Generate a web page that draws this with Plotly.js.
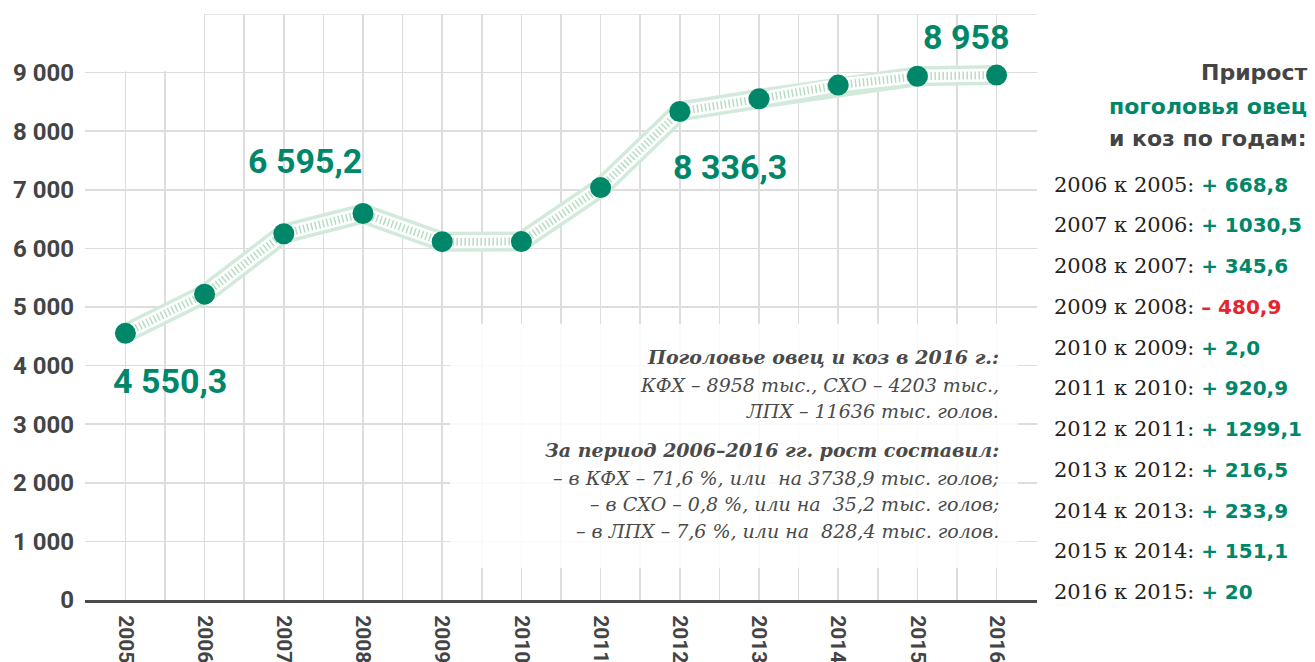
<!DOCTYPE html>
<html>
<head>
<meta charset="utf-8">
<script src="https://cdn.plot.ly/plotly-3.0.1.min.js"></script>
<style>html,body{margin:0;padding:0;background:#fff;}#chart{width:1315px;height:662px;}</style>
</head>
<body>
<div id="chart"></div>
<script>
// ---- data ----
const years = [2005, 2006, 2007, 2008, 2009, 2010, 2011, 2012, 2013, 2014, 2015, 2016];
const heads = [4550.3, 5219.1, 6249.6, 6595.2, 6114.3, 6116.3, 7037.2, 8336.3, 8552.8, 8786.7, 8937.8, 8957.8];
const yTickVals = [0, 1000, 2000, 3000, 4000, 5000, 6000, 7000, 8000, 9000];
const yTickText = ['0', '1 000', '2 000', '3 000', '4 000', '5 000', '6 000', '7 000', '8 000', '9 000'];
const calloutYears = [2005, 2008, 2012, 2016];
const calloutText = ['4 550,3', '6 595,2', '8 336,3', '8 958'];
const growthPeriods = ['2006 к 2005:', '2007 к 2006:', '2008 к 2007:', '2009 к 2008:', '2010 к 2009:', '2011 к 2010:',
  '2012 к 2011:', '2013 к 2012:', '2014 к 2013:', '2015 к 2014:', '2016 к 2015:'];
const growthValues = ['+ 668,8', '+ 1030,5', '+ 345,6', '– 480,9', '+ 2,0', '+ 920,9', '+ 1299,1', '+ 216,5', '+ 233,9', '+ 151,1', '+ 20'];
const headerLines = ['Прирост', 'поголовья овец', 'и коз по годам:'];
const noteLines = [
  '<b>Поголовье овец и коз в 2016 г.:</b>',
  'КФХ – 8958 тыс., СХО – 4203 тыс.,',
  'ЛПХ – 11636 тыс. голов.',
  '<b>За период 2006–2016 гг. рост составил:</b>',
  '– в КФХ – 71,6 %, или  на 3738,9 тыс. голов;',
  '– в СХО – 0,8 %, или на  35,2 тыс. голов;',
  '– в ЛПХ – 7,6 %, или на  828,4 тыс. голов.'
];

// ---- styles ----
const GREEN = '#00876a';
const DARK = '#444444';
const RED = '#e8232d';
const L = 85, R = 1037, T = 14.4, B = 600;
const px2x = p => (p - L) / (R - L);
const py2y = p => (B - p) / (B - T);

const lineCommon = {x: years, y: heads, mode: 'lines', hoverinfo: 'skip', showlegend: false};
const traces = [
  Object.assign({}, lineCommon, {line: {color: '#d2eada', width: 20}}),
  Object.assign({}, lineCommon, {line: {color: '#ffffff', width: 13}}),
  Object.assign({}, lineCommon, {line: {color: '#b6ddc1', width: 8, dash: '1.5px,2.5px'}}),
  {x: years, y: heads, mode: 'markers', marker: {size: 21, color: GREEN}, showlegend: false, hoverinfo: 'skip'}
];

const annotations = [];
// callouts
const calloutPos = [[170, 381], [305, 161], [730, 167], [966, 37]];
calloutText.forEach((t, i) => {
  annotations.push({xref: 'paper', yref: 'paper', x: px2x(calloutPos[i][0]), y: py2y(calloutPos[i][1]),
    xanchor: 'center', yanchor: 'middle', showarrow: false, text: t,
    font: {family: 'Roboto', size: 34, weight: 700, color: GREEN}});
});
// header on right
const headerY = [73, 107, 139];
const headerColors = [DARK, GREEN, DARK];
headerLines.forEach((t, i) => {
  annotations.push({xref: 'paper', yref: 'paper', x: px2x(1309), y: py2y(headerY[i]),
    xanchor: 'right', yanchor: 'middle', showarrow: false, text: t,
    font: {family: 'DejaVu Sans', size: 22, weight: 700, color: headerColors[i]}});
});
// growth list
growthPeriods.forEach((p, i) => {
  const v = growthValues[i];
  const col = v.charAt(0) === '–' ? RED : GREEN;
  annotations.push({xref: 'paper', yref: 'paper', x: px2x(1052), y: py2y(185 + i * 40.7),
    xanchor: 'left', yanchor: 'middle', showarrow: false,
    text: p + ' <span style="font-family:DejaVu Sans;font-weight:bold;font-size:20px;color:' + col + '">' + v + '</span>',
    font: {family: 'DejaVu Serif', size: 21, color: '#222222'}});
});
// note box text
const noteY = [357, 385, 411, 450, 478, 504, 531];
noteLines.forEach((t, i) => {
  annotations.push({xref: 'paper', yref: 'paper', x: px2x(1001), y: py2y(noteY[i]),
    xanchor: 'right', yanchor: 'middle', showarrow: false, text: '<i>' + t + '</i>',
    font: {family: 'DejaVu Serif', size: 19, color: '#4a4a4a'}});
});

const shapes = [
  // mask grid above 9000 left of 2006
  {type: 'rect', xref: 'x', yref: 'y', x0: 2004.3, x1: 2005.985, y0: 9025, y1: 10200,
    fillcolor: '#ffffff', line: {width: 0}, layer: 'above'},
  // top border of grid
  {type: 'line', xref: 'x', yref: 'y', x0: 2006, x1: 2016.5, y0: 10000, y1: 10000,
    line: {color: '#dddddd', width: 1.5}, layer: 'below'},
  // note box
  {type: 'rect', xref: 'paper', yref: 'paper', x0: px2x(450), x1: px2x(1018), y0: py2y(568), y1: py2y(324),
    fillcolor: 'rgba(255,255,255,0.85)', line: {width: 0}, layer: 'above'}
];

const layout = {
  width: 1315, height: 662,
  margin: {l: L, r: 1315 - R, t: T, b: 662 - B, pad: 0},
  paper_bgcolor: '#ffffff', plot_bgcolor: '#ffffff',
  showlegend: false,
  xaxis: {
    range: [2004.49, 2016.51], tickvals: years, ticktext: years.map(String),
    tickangle: 90, ticks: '', showgrid: true, gridcolor: '#dddddd', gridwidth: 1.5,
    minor: {tick0: 2004.5, dtick: 1, showgrid: true, gridcolor: '#dddddd', gridwidth: 1.5, ticks: ''},
    showline: true, linecolor: '#4a4a4a', linewidth: 3, zeroline: false,
    tickfont: {family: 'Roboto', size: 21, weight: 700, color: DARK}, ticklabelstandoff: 8,
    fixedrange: true
  },
  yaxis: {
    range: [0, 10000], tickvals: yTickVals, ticktext: yTickText, ticks: '',
    showgrid: true, gridcolor: '#dddddd', gridwidth: 1.5, zeroline: false, showline: false,
    tickfont: {family: 'Roboto', size: 24, weight: 700, color: DARK}, ticklabelstandoff: 10,
    fixedrange: true
  },
  annotations: annotations,
  shapes: shapes
};

Plotly.newPlot('chart', traces, layout, {displayModeBar: false, staticPlot: true});
</script>
</body>
</html>
